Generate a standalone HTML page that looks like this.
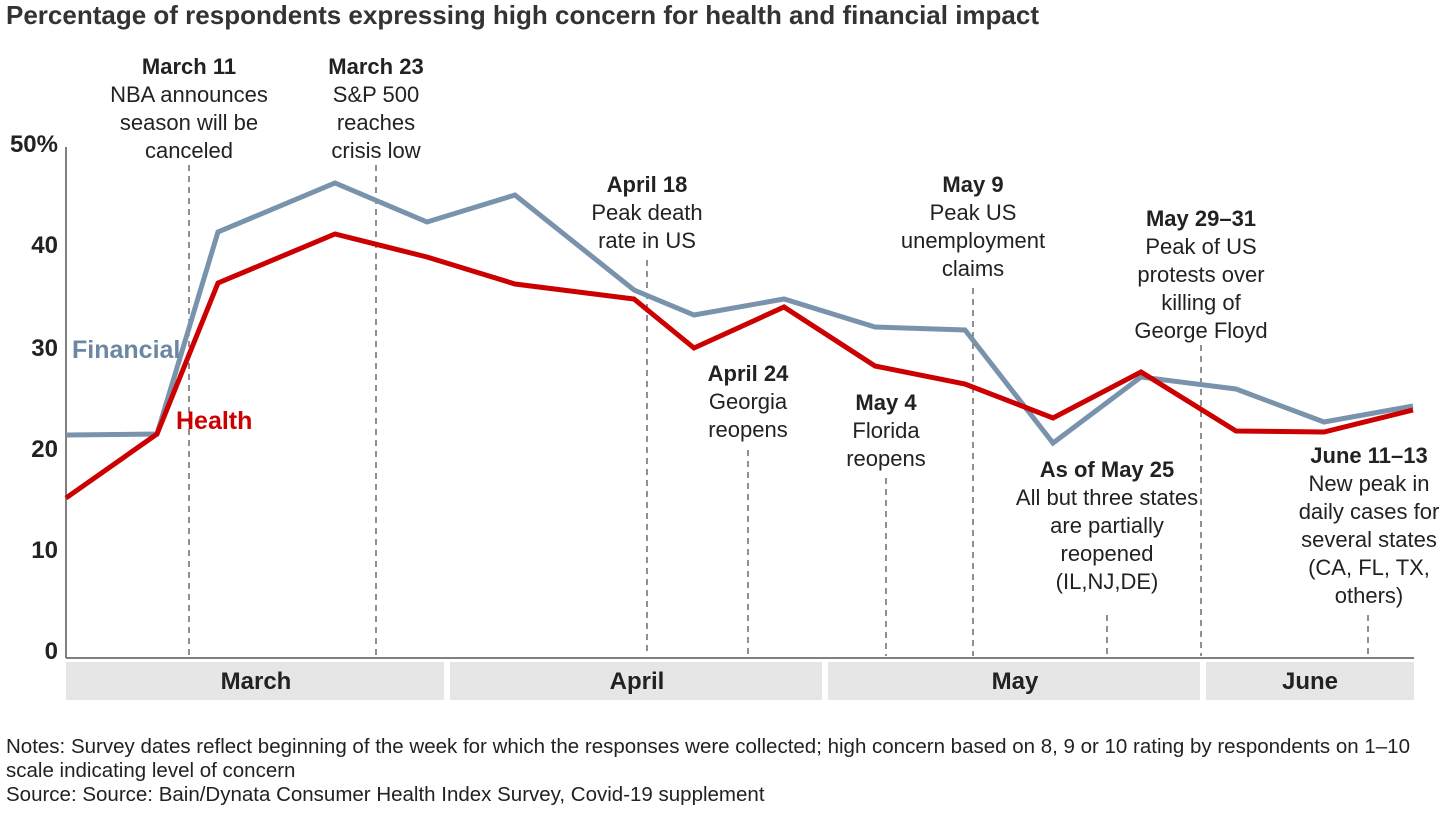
<!DOCTYPE html>
<html><head><meta charset="utf-8"><style>
body{margin:0;width:1440px;height:810px;background:#fff;font-family:"Liberation Sans",sans-serif;overflow:hidden}
svg text{font-family:"Liberation Sans",sans-serif}
</style></head><body>
<svg width="1440" height="810" xmlns="http://www.w3.org/2000/svg">
<text x="6" y="24" font-size="26" font-weight="bold" fill="#333">Percentage of respondents expressing high concern for health and financial impact</text>
<g font-size="24" font-weight="bold" fill="#222" text-anchor="end">
<text x="58" y="152">50%</text><text x="58" y="253">40</text><text x="58" y="356">30</text>
<text x="58" y="457">20</text><text x="58" y="558">10</text><text x="58" y="659">0</text></g>
<line x1="66" y1="147" x2="66" y2="658" stroke="#555" stroke-width="1.5"/>
<line x1="66" y1="658" x2="1414" y2="658" stroke="#555" stroke-width="1.5"/>
<g stroke="#555" stroke-width="1.3" stroke-dasharray="6,5">
<line x1="189" y1="165" x2="189" y2="656"/><line x1="376" y1="165" x2="376" y2="656"/>
<line x1="647" y1="260" x2="647" y2="656"/><line x1="748" y1="450" x2="748" y2="656"/>
<line x1="886" y1="478" x2="886" y2="656"/><line x1="973" y1="288" x2="973" y2="656"/>
<line x1="1107" y1="615" x2="1107" y2="656"/><line x1="1201" y1="345" x2="1201" y2="656"/>
<line x1="1368" y1="615" x2="1368" y2="656"/></g>
<polyline fill="none" stroke="#7a93ad" stroke-width="5" points="66,435 157,434 218,232 335,183 427,222 515,195 634,290 694,315 784,299 875,327 965,330 1053,443 1141,377 1236,389 1324,422 1413,406"/>
<polyline fill="none" stroke="#cc0000" stroke-width="5" points="66,498 157,434 218,283 335,234 427,257 515,284 634,299 694,348 784,307 875,366 965,384 1053,418 1141,372 1236,431 1324,432 1413,410"/>
<text x="72" y="358" font-size="25" font-weight="bold" fill="#6c87a3">Financial</text>
<text x="176" y="429" font-size="25" font-weight="bold" fill="#cc0000">Health</text>
<g font-size="22" fill="#222" text-anchor="middle">
<text x="189" y="74" font-weight="bold">March 11</text><text x="189" y="102">NBA announces</text><text x="189" y="130">season will be</text><text x="189" y="158">canceled</text>
<text x="376" y="74" font-weight="bold">March 23</text><text x="376" y="102">S&amp;P 500</text><text x="376" y="130">reaches</text><text x="376" y="158">crisis low</text>
<text x="647" y="192" font-weight="bold">April 18</text><text x="647" y="220">Peak death</text><text x="647" y="248">rate in US</text>
<text x="748" y="381" font-weight="bold">April 24</text><text x="748" y="409">Georgia</text><text x="748" y="437">reopens</text>
<text x="886" y="410" font-weight="bold">May 4</text><text x="886" y="438">Florida</text><text x="886" y="466">reopens</text>
<text x="973" y="192" font-weight="bold">May 9</text><text x="973" y="220">Peak US</text><text x="973" y="248">unemployment</text><text x="973" y="276">claims</text>
<text x="1201" y="226" font-weight="bold">May 29–31</text><text x="1201" y="254">Peak of US</text><text x="1201" y="282">protests over</text><text x="1201" y="310">killing of</text><text x="1201" y="338">George Floyd</text>
<text x="1107" y="477" font-weight="bold">As of May 25</text><text x="1107" y="505">All but three states</text><text x="1107" y="533">are partially</text><text x="1107" y="561">reopened</text><text x="1107" y="589">(IL,NJ,DE)</text>
<text x="1369" y="463" font-weight="bold">June 11–13</text><text x="1369" y="491">New peak in</text><text x="1369" y="519">daily cases for</text><text x="1369" y="547">several states</text><text x="1369" y="575">(CA, FL, TX,</text><text x="1369" y="603">others)</text>
</g>
<g fill="#e6e6e6"><rect x="66" y="662" width="378" height="38"/><rect x="450" y="662" width="372" height="38"/><rect x="828" y="662" width="372" height="38"/><rect x="1206" y="662" width="208" height="38"/></g>
<g font-size="24" font-weight="bold" fill="#222" text-anchor="middle">
<text x="256" y="689">March</text><text x="637" y="689">April</text><text x="1015" y="689">May</text><text x="1310" y="689">June</text></g>
<g font-size="20.5" fill="#222">
<text x="6" y="753">Notes: Survey dates reflect beginning of the week for which the responses were collected; high concern based on 8, 9 or 10 rating by respondents on 1–10</text>
<text x="6" y="777">scale indicating level of concern</text>
<text x="6" y="801">Source: Source: Bain/Dynata Consumer Health Index Survey, Covid-19 supplement</text></g>
</svg>
</body></html>
